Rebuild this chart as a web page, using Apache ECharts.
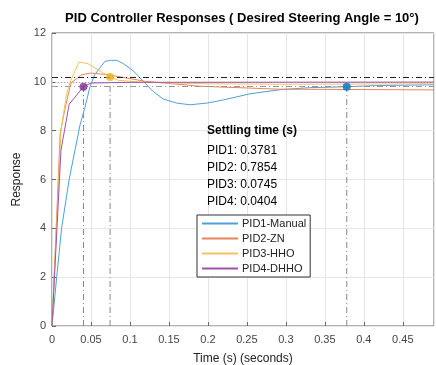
<!DOCTYPE html>
<html>
<head>
<meta charset="utf-8">
<script src="https://cdn.jsdelivr.net/npm/echarts@6/dist/echarts.min.js"></script>
<style>
  html, body { margin: 0; padding: 0; background: #fff; }
  #chart { width: 436px; height: 365px; }
</style>
</head>
<body>
<div id="chart"></div>
<script>
// series names and [t, response] samples
var names = ["PID1-Manual", "PID2-ZN", "PID3-HHO", "PID4-DHHO"];
var pid1 = [[0, 0], [0.006, 2.0], [0.0123, 4.0], [0.022, 6.0], [0.0295, 7.2], [0.036, 8.24], [0.042, 8.92], [0.049, 9.84], [0.055, 10.3], [0.068, 10.84], [0.075, 10.88], [0.083, 10.88], [0.092, 10.74], [0.105, 10.43], [0.117, 10.02], [0.13, 9.6], [0.143, 9.29], [0.16, 9.13], [0.177, 9.06], [0.199, 9.13], [0.22, 9.26], [0.254, 9.51], [0.293, 9.68], [0.33, 9.76], [0.378, 9.8], [0.42, 9.85], [0.49, 9.88]];
var pid2 = [[0, 0], [0.0105, 7.9], [0.0167, 8.9], [0.0243, 9.95], [0.038, 10.29], [0.05, 10.36], [0.072, 10.29], [0.12, 10.02], [0.19, 9.82], [0.29, 9.7], [0.49, 9.67]];
var pid3 = [[0, 0], [0.0115, 8.0], [0.0187, 9.5], [0.024, 10.05], [0.0346, 10.81], [0.0465, 10.74], [0.066, 10.36], [0.0745, 10.2], [0.085, 10.06], [0.12, 9.98], [0.2, 9.92], [0.3, 9.9], [0.49, 9.92]];
var pid4 = [[0, 0], [0.0115, 7.2], [0.022, 9.08], [0.0404, 9.8], [0.05, 9.95], [0.1, 9.98], [0.49, 9.99]];
var settlingTimes = [0.3781, 0.7854, 0.0745, 0.0404];
// settling markers (PID2 lies beyond the axis)
var markT = [0.3781, 0.0745, 0.0404];
var markY = [9.8, 10.2, 9.8];
var markIdx = [0, 2, 3];
var bandHigh = 10.2, target = 10, bandLow = 9.8;

var lineColors = ["#4f9fdb", "#e8845c", "#f2c45a", "#9b55a8"];
var dotColors = ["#0072BD", "#D95319", "#EDB120", "#7E2F8E"];
var font = "'Liberation Sans', Arial, sans-serif";

var chart = echarts.init(document.getElementById("chart"));

var series = [];
[pid1, pid2, pid3, pid4].forEach(function (d, i) {
  series.push({
    name: names[i],
    type: "line",
    data: d,
    symbol: "none",
    lineStyle: { color: lineColors[i], width: 1 },
    itemStyle: { color: lineColors[i] },
    z: 3 + i
  });
});

// reference lines
series.push({
  type: "line",
  data: [],
  silent: true,
  markLine: {
    symbol: "none",
    silent: true,
    label: { show: false },
    data: [
      { yAxis: bandHigh, lineStyle: { color: "#222", type: [6, 3, 1, 3], width: 1 } },
      { yAxis: target, lineStyle: { color: "#aaa", type: [1, 2], width: 1 } },
      { yAxis: bandLow, lineStyle: { color: "#999", type: [6, 3, 1, 3], width: 1 } }
    ]
  },
  z: 2
});

// vertical drops from the settling markers
markT.forEach(function (t, k) {
  series.push({
    type: "line",
    data: [[t, 0], [t, markY[k]]],
    symbol: "none",
    silent: true,
    lineStyle: { color: "#888", type: [6, 3, 1, 3], width: 1 },
    z: 2
  });
});

series.push({
  type: "scatter",
  data: markT.map(function (t, k) {
    return { value: [t, markY[k]], itemStyle: { color: dotColors[markIdx[k]] } };
  }),
  symbolSize: 8,
  z: 10
});

var noteLines = settlingTimes.map(function (s, i) {
  return "PID" + (i + 1) + ": " + s.toFixed(4);
});

var option = {
  animation: false,
  title: {
    text: "PID Controller Responses ( Desired Steering Angle = 10°)",
    left: 237,
    top: 7,
    textAlign: "center",
    textStyle: { fontFamily: font, fontSize: 13, fontWeight: "bold", color: "#000" }
  },
  grid: {
    left: 52,
    top: 33,
    right: 2,
    bottom: 39,
    outerBoundsMode: "none",
    containLabel: false,
    show: true,
    borderColor: "#666",
    borderWidth: 1
  },
  legend: {
    data: names,
    orient: "vertical",
    left: 197,
    top: 215,
    itemWidth: 36,
    itemHeight: 11,
    itemGap: 4,
    padding: [3, 4, 3, 4],
    backgroundColor: "#fff",
    borderColor: "#333",
    borderWidth: 1,
    borderRadius: 0,
    itemStyle: { opacity: 0, borderWidth: 0 },
    textStyle: { fontFamily: font, fontSize: 11, color: "#222", padding: [0, 0, 0, -1] }
  },
  xAxis: {
    type: "value",
    min: 0,
    max: 0.49,
    interval: 0.05,
    name: "Time (s) (seconds)",
    nameLocation: "middle",
    nameGap: 27,
    nameTextStyle: { fontFamily: font, fontSize: 12, color: "#222" },
    axisLine: { show: false },
    axisTick: { show: true, inside: true, length: 4, lineStyle: { color: "#666" } },
    axisLabel: { fontFamily: font, fontSize: 11, color: "#444", margin: 8, showMaxLabel: false },
    splitLine: { show: true, lineStyle: { color: "#e6e6e6", width: 1 } }
  },
  yAxis: {
    type: "value",
    min: 0,
    max: 12,
    interval: 2,
    name: "Response",
    nameLocation: "middle",
    nameGap: 23,
    nameTextStyle: { fontFamily: font, fontSize: 12, color: "#222" },
    axisLine: { show: false },
    axisTick: { show: true, inside: true, length: 4, lineStyle: { color: "#666" } },
    axisLabel: { fontFamily: font, fontSize: 11, color: "#444", margin: 6 },
    splitLine: { show: true, lineStyle: { color: "#e6e6e6", width: 1 } }
  },
  graphic: [
    {
      type: "text",
      left: 207,
      top: 125,
      z: 100,
      style: { text: "Settling time (s)", font: "bold 12px " + font, fill: "#000" }
    },
    {
      type: "text",
      left: 207,
      top: 142,
      z: 100,
      style: { text: noteLines.join("\n"), font: "12px " + font, fill: "#000", lineHeight: 17 }
    }
  ],
  series: series
};

chart.setOption(option);
window.addEventListener("resize", function () {
  chart.resize();
});
</script>
</body>
</html>
